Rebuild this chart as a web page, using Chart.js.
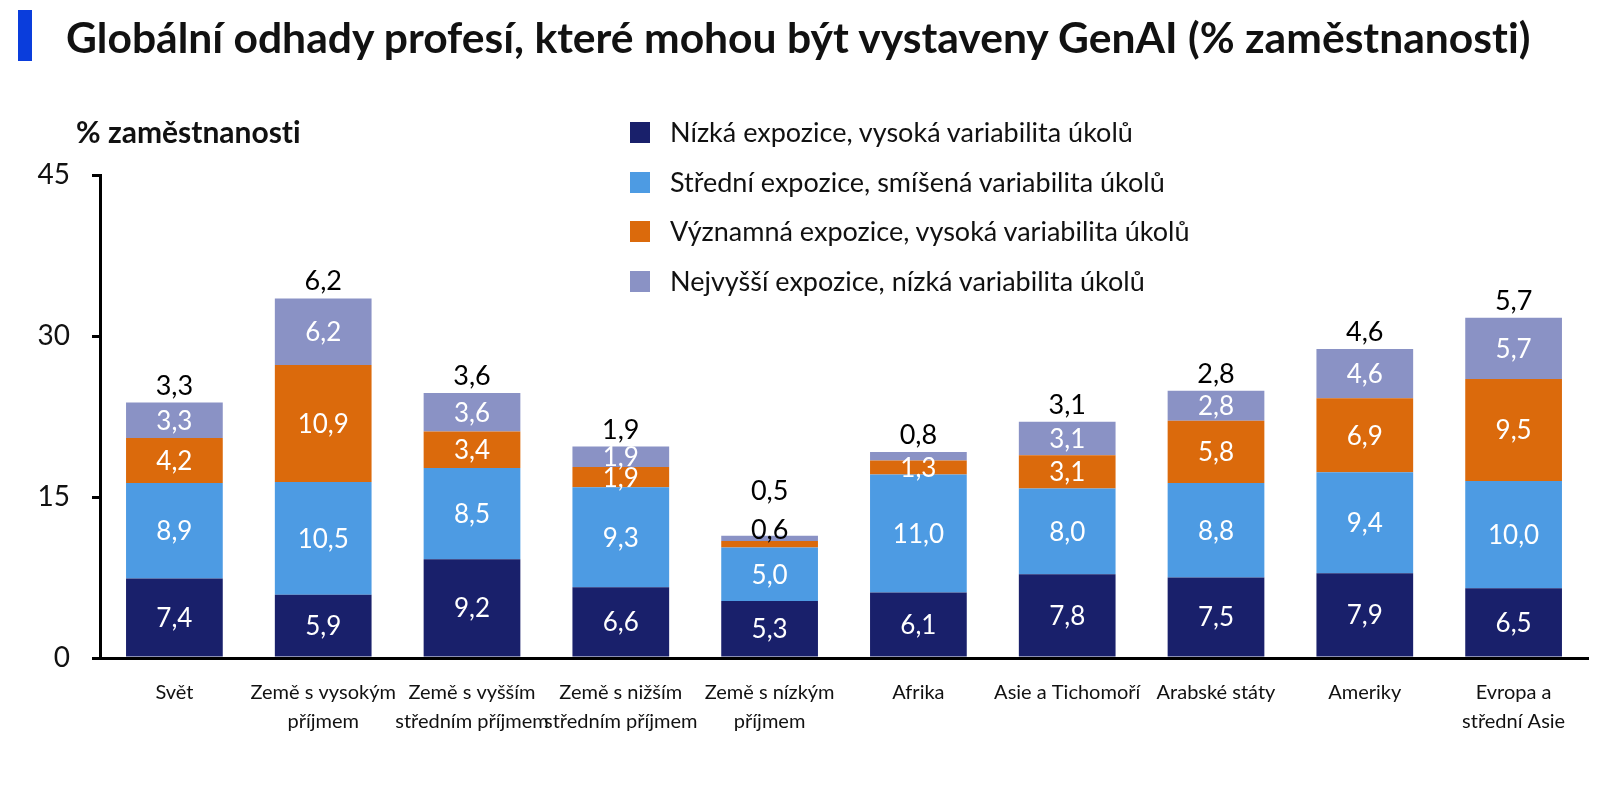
<!DOCTYPE html>
<html lang="cs">
<head>
<meta charset="utf-8">
<script src="https://cdn.jsdelivr.net/npm/chart.js@4.4.1/dist/chart.umd.min.js"></script>
<style>
  body { margin: 0; background: #fff; font-family: Lato, "Noto Sans", sans-serif; font-variant-ligatures: none; }
  #wrap { position: relative; width: 1600px; height: 792px; overflow: hidden; }
  #myChart { position: absolute; left: 0; top: 0; }
  .bar { position: absolute; left: 18px; top: 10px; width: 14px; height: 51px; background: #0a3ddc; }
  .title { position: absolute; left: 66px; top: 11px; font-size: 42.6px; font-weight: 700; color: #111; white-space: nowrap; line-height: 52px; }
  .ytitle { position: absolute; left: 76px; top: 112px; font-size: 30px; font-weight: 700; color: #111; white-space: nowrap; line-height: 38px; }
  #legend { position: absolute; left: 630px; top: 114px; }
  .item { height: 49.5px; display: flex; align-items: flex-start; font-size: 27px; color: #111; white-space: nowrap; line-height: 36px; }
  .sw { width: 20px; height: 21px; margin: 8px 20px 0 0; }
</style>
</head>
<body>
<div id="wrap">
  <canvas id="myChart" width="1600" height="792"></canvas>
  <div class="bar"></div>
  <div class="title">Globální odhady profesí, které mohou být vystaveny GenAI (% zaměstnanosti)</div>
  <div class="ytitle">% zaměstnanosti</div>
  <div id="legend"></div>
</div>
<script>
// kategorie (víceřádkové popisky)
const labels = [
  ['Svět'],
  ['Země s vysokým', 'příjmem'],
  ['Země s vyšším', 'středním příjmem'],
  ['Země s nižším', 'středním příjmem'],
  ['Země s nízkým', 'příjmem'],
  ['Afrika'],
  ['Asie a Tichomoří'],
  ['Arabské státy'],
  ['Ameriky'],
  ['Evropa a', 'střední Asie']
];

const seriesNames = [
  'Nízká expozice, vysoká variabilita úkolů',
  'Střední expozice, smíšená variabilita úkolů',
  'Významná expozice, vysoká variabilita úkolů',
  'Nejvyšší expozice, nízká variabilita úkolů'
];
const seriesColors = ['#19206b', '#4d9be3', '#db6a0c', '#8a92c5'];

const lowExp  = [7.4, 5.9, 9.2, 6.6, 5.3, 6.1, 7.8, 7.5, 7.9, 6.5];
const midExp  = [8.9, 10.5, 8.5, 9.3, 5.0, 11.0, 8.0, 8.8, 9.4, 10.0];
const sigExp  = [4.2, 10.9, 3.4, 1.9, 0.6, 1.3, 3.1, 5.8, 6.9, 9.5];
const topExp  = [3.3, 6.2, 3.6, 1.9, 0.5, 0.8, 3.1, 2.8, 4.6, 5.7];
const series = [lowExp, midExp, sigExp, topExp];

const yTicks = [0, 15, 30, 45];

const fmt = v => v.toFixed(1).replace('.', ',');

// legenda
const legend = document.getElementById('legend');
seriesNames.forEach((name, i) => {
  const row = document.createElement('div');
  row.className = 'item';
  row.innerHTML = `<span class="sw" style="background:${seriesColors[i]}"></span>${name}`;
  legend.appendChild(row);
});

// popisky segmentů + hodnota nad sloupcem
const segLabels = {
  id: 'segLabels',
  afterDatasetsDraw(chart) {
    const ctx = chart.ctx;
    const nds = chart.data.datasets.length;
    ctx.save();
    ctx.textAlign = 'center';
    for (let i = 0; i < chart.data.labels.length; i++) {
      let topY = null, x = 0;
      const small = [];
      ctx.font = '26px Lato';
      for (let d = 0; d < nds; d++) {
        const el = chart.getDatasetMeta(d).data[i];
        const v = chart.data.datasets[d].data[i];
        x = el.x;
        topY = el.y;
        if (v >= 1) {
          ctx.fillStyle = '#fff';
          ctx.textBaseline = 'middle';
          ctx.fillText(fmt(v), el.x, (el.y + el.base) / 2 + 1);
        } else if (d < nds - 1) {
          small.push(v);
        }
      }
      ctx.font = '27px Lato';
      ctx.fillStyle = '#000';
      ctx.textBaseline = 'alphabetic';
      let y = topY - 8;
      if (small.length) {
        small.forEach(v => { ctx.fillText(fmt(v), x, topY + 3); });
        y = topY - 36;
      }
      ctx.fillText(fmt(chart.data.datasets[nds - 1].data[i]), x, y);
    }
    ctx.restore();
  }
};

const ctx = document.getElementById('myChart');
new Chart(ctx, {
  type: 'bar',
  data: {
    labels: labels,
    datasets: series.map((s, i) => ({
      label: seriesNames[i],
      data: s,
      backgroundColor: seriesColors[i],
      borderWidth: 0,
      categoryPercentage: 1,
      barPercentage: 0.65
    }))
  },
  options: {
    responsive: false,
    animation: false,
    layout: { padding: { top: 175, right: 12, left: 0, bottom: 0 } },
    plugins: { legend: { display: false }, tooltip: { enabled: false } },
    scales: {
      x: {
        stacked: true,
        grid: { display: false },
        border: { display: true, color: '#000', width: 3 },
        ticks: { color: '#111', font: { family: 'Lato', size: 20, lineHeight: 1.45 }, padding: 12, maxRotation: 0, autoSkip: false },
        afterFit: s => { s.height = 134; }
      },
      y: {
        stacked: true,
        min: 0,
        max: 45,
        afterBuildTicks: s => { s.ticks = yTicks.map(v => ({ value: v })); },
        grid: { drawOnChartArea: false, drawTicks: true, tickLength: 8, color: '#000', lineWidth: 3 },
        border: { display: true, color: '#000', width: 3 },
        ticks: { color: '#111', font: { family: 'Lato', size: 28 }, padding: 22 },
        afterFit: s => { s.width = 100; }
      }
    }
  },
  plugins: [segLabels]
});
</script>
</body>
</html>
